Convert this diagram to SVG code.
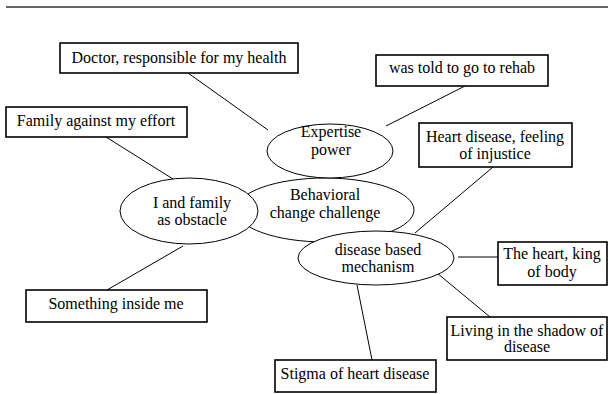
<svg xmlns="http://www.w3.org/2000/svg" width="608" height="394" viewBox="0 0 608 394">
<style>
.bg{fill:#fff}
.box{fill:#fff;stroke:#000;stroke-width:1.6}
.ell{fill:#fff;stroke:#000;stroke-width:1}
.ln{stroke:#000;stroke-width:1;fill:none}
text{font-family:'Liberation Serif',serif;font-size:16px;fill:#000;text-anchor:middle}
</style>
<rect class="bg" x="0" y="0" width="608" height="394"/>
<line x1="6" y1="7" x2="608" y2="7" stroke="#333" stroke-width="1.6"/>
<g id="connectors">
<line class="ln" x1="188" y1="73" x2="268" y2="130"/>
<line class="ln" x1="465" y1="86" x2="386" y2="126"/>
<line class="ln" x1="106" y1="137" x2="173" y2="179"/>
<line class="ln" x1="107" y1="290" x2="183" y2="246"/>
<line class="ln" x1="493" y1="167" x2="415" y2="233"/>
<line class="ln" x1="458" y1="257" x2="498" y2="257"/>
<line class="ln" x1="437" y1="273" x2="490" y2="317"/>
<line class="ln" x1="357" y1="285" x2="372" y2="360"/>
</g>
<g id="behavioral">
<ellipse class="ell" cx="325" cy="210" rx="89" ry="32"/>
<text x="325" y="200">Behavioral</text>
<text x="325" y="218">change challenge</text>
</g>
<g id="family-obstacle">
<ellipse class="ell" cx="189" cy="211" rx="69" ry="33"/>
<text x="192" y="208">I and family</text>
<text x="192" y="225">as obstacle</text>
</g>
<g id="expertise">
<ellipse class="ell" cx="330" cy="151" rx="63" ry="27"/>
<text x="331" y="137">Expertise</text>
<text x="331" y="155">power</text>
</g>
<g id="disease">
<ellipse class="ell" cx="376" cy="258" rx="78" ry="27"/>
<text x="378" y="255">disease based</text>
<text x="378" y="272">mechanism</text>
</g>
<g id="doctor">
<rect class="box" x="60" y="43" width="238" height="30"/>
<text x="179" y="63">Doctor, responsible for my health</text>
</g>
<g id="rehab">
<rect class="box" x="376" y="55" width="172" height="31"/>
<text x="462" y="73">was told to go to rehab</text>
</g>
<g id="family-against">
<rect class="box" x="6" y="107" width="181" height="30"/>
<text x="96" y="126">Family against my effort</text>
</g>
<g id="injustice">
<rect class="box" x="419" y="123" width="153" height="44"/>
<text x="495" y="142">Heart disease, feeling</text>
<text x="495" y="159">of injustice</text>
</g>
<g id="something">
<rect class="box" x="26" y="290" width="181" height="32"/>
<text x="116" y="309">Something inside me</text>
</g>
<g id="king">
<rect class="box" x="498" y="242" width="109" height="43"/>
<text x="552" y="259">The heart, king</text>
<text x="552" y="277">of body</text>
</g>
<g id="shadow">
<rect class="box" x="447" y="317" width="160" height="43"/>
<text x="527" y="336">Living in the shadow of</text>
<text x="527" y="352">disease</text>
</g>
<g id="stigma">
<rect class="box" x="275" y="360" width="161" height="32"/>
<text x="355" y="379">Stigma of heart disease</text>
</g>
</svg>
